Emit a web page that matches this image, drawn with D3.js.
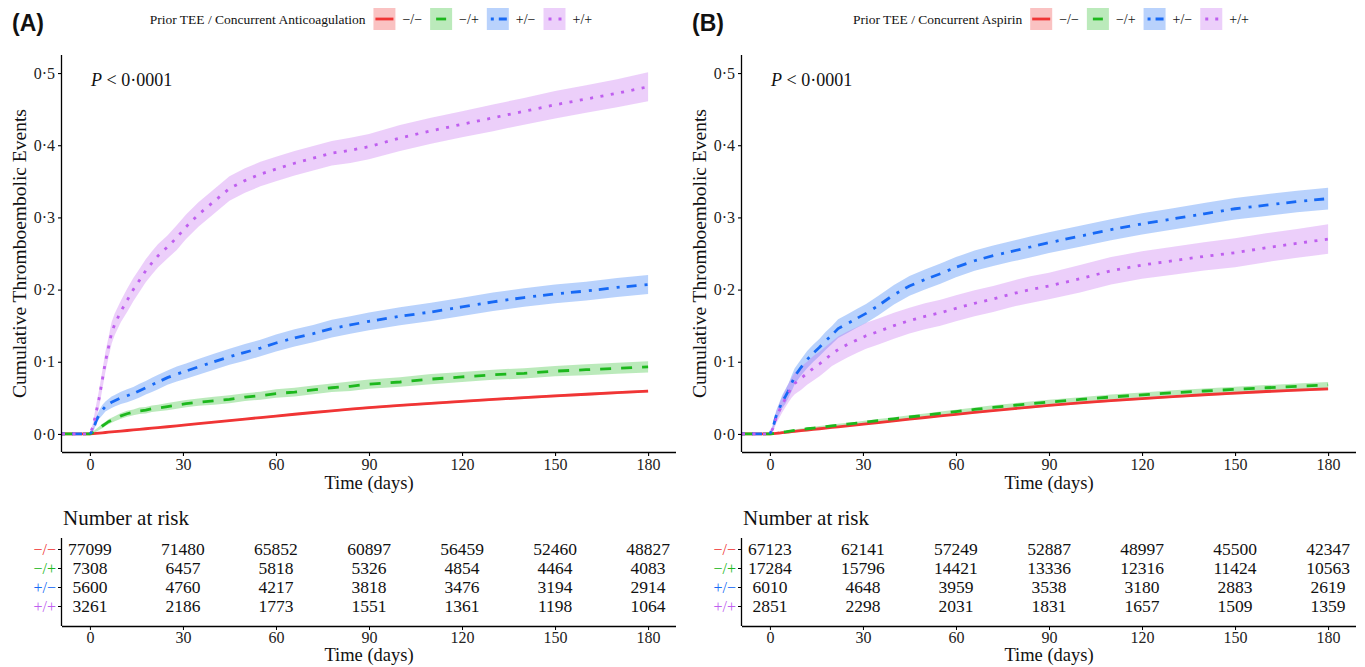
<!DOCTYPE html>
<html><head><meta charset="utf-8">
<script src="https://cdn.jsdelivr.net/npm/d3@7"></script>
<style>
body{margin:0;background:#fff;}
text{font-family:"Liberation Serif","Times New Roman",serif;}
</style>
</head><body>
<svg id="c" width="1365" height="667"></svg>
<script>
// ---------- data ----------
const groups = ["−/−", "−/+", "+/−", "+/+"];
const colors = ["#F03535", "#1DB81D", "#1769F5", "#BF5FEF"];
const xTicks = [0, 30, 60, 90, 120, 150, 180];
const yTicks = [0, 0.1, 0.2, 0.3, 0.4, 0.5];
const riskTimes = [0, 30, 60, 90, 120, 150, 180];
const times = [-9,0,1,2,3,4,5,6,7,8,10,12,14,16,18,20,22,25,28,31,35,40,45,50,55,60,66,72,78,84,90,100,110,120,130,140,150,160,170,180];

// Panel A: Prior TEE / Concurrent Anticoagulation
const legendTitleA = "Prior TEE / Concurrent Anticoagulation";
const estA_mm = [0,0,0.0004,0.0008,0.0012,0.0016,0.002,0.0024,0.0028,0.0032,0.004,0.0048,0.0056,0.0064,0.0072,0.008,0.0088,0.010,0.0112,0.0125,0.0142,0.0163,0.0185,0.0206,0.0227,0.0248,0.0273,0.0297,0.032,0.0343,0.0365,0.0395,0.0425,0.0452,0.0478,0.0503,0.0527,0.055,0.0572,0.0594];
const estA_mp = [0,0,0.002,0.005,0.008,0.011,0.014,0.017,0.019,0.021,0.025,0.028,0.03,0.032,0.033,0.035,0.036,0.038,0.04,0.042,0.044,0.046,0.048,0.051,0.053,0.056,0.058,0.061,0.064,0.066,0.069,0.072,0.076,0.079,0.082,0.084,0.087,0.089,0.091,0.093];
const estA_pm = [0,0,0.005,0.018,0.027,0.033,0.038,0.041,0.044,0.046,0.05,0.053,0.056,0.06,0.064,0.068,0.072,0.078,0.083,0.087,0.093,0.1,0.107,0.113,0.119,0.126,0.133,0.139,0.146,0.151,0.156,0.163,0.169,0.176,0.183,0.189,0.194,0.198,0.203,0.207];
const estA_pp = [0,0,0.01,0.03,0.05,0.075,0.1,0.12,0.14,0.152,0.17,0.185,0.2,0.213,0.226,0.237,0.247,0.259,0.272,0.287,0.304,0.322,0.34,0.351,0.36,0.367,0.375,0.382,0.389,0.393,0.398,0.41,0.42,0.429,0.438,0.447,0.456,0.464,0.472,0.481];
const ciA_mm = [0,0,0.0003,0.0004,0.0004,0.0005,0.0005,0.0005,0.0006,0.0006,0.0006,0.0007,0.0007,0.0008,0.0008,0.0008,0.0009,0.0009,0.001,0.001,0.001,0.0011,0.0011,0.0012,0.0012,0.0013,0.0013,0.0014,0.0014,0.0015,0.0015,0.0016,0.0016,0.0017,0.0017,0.0018,0.0018,0.0019,0.0019,0.002];
const ciA_mp = [0,0,0.0015,0.002,0.0025,0.003,0.003,0.0035,0.0035,0.0035,0.004,0.004,0.004,0.0045,0.0045,0.0045,0.0045,0.005,0.005,0.005,0.005,0.0055,0.0055,0.0055,0.0055,0.006,0.006,0.006,0.006,0.0065,0.0065,0.0065,0.007,0.007,0.007,0.0072,0.0072,0.0075,0.0075,0.0078];
const ciA_pm = [0,0,0.003,0.005,0.006,0.007,0.007,0.0075,0.008,0.008,0.0085,0.009,0.009,0.0095,0.0095,0.01,0.01,0.01,0.0105,0.0105,0.011,0.011,0.0112,0.0115,0.0115,0.0118,0.012,0.012,0.0122,0.0122,0.0124,0.0125,0.0126,0.0127,0.0128,0.0129,0.013,0.013,0.0131,0.0132];
const ciA_pp = [0,0,0.006,0.01,0.012,0.013,0.014,0.014,0.015,0.015,0.015,0.016,0.016,0.016,0.016,0.016,0.016,0.016,0.017,0.017,0.017,0.017,0.017,0.017,0.017,0.017,0.017,0.017,0.017,0.0175,0.0175,0.018,0.018,0.018,0.0185,0.0185,0.019,0.019,0.0195,0.02];
const riskA_mm = [77099, 71480, 65852, 60897, 56459, 52460, 48827];
const riskA_mp = [7308, 6457, 5818, 5326, 4854, 4464, 4083];
const riskA_pm = [5600, 4760, 4217, 3818, 3476, 3194, 2914];
const riskA_pp = [3261, 2186, 1773, 1551, 1361, 1198, 1064];

// Panel B: Prior TEE / Concurrent Aspirin
const legendTitleB = "Prior TEE / Concurrent Aspirin";
const estB_mm = [0,0,0.0004,0.0009,0.0013,0.0018,0.0022,0.0027,0.0031,0.0036,0.0045,0.0054,0.0063,0.0072,0.0081,0.009,0.0099,0.0112,0.0126,0.014,0.0158,0.018,0.0205,0.0228,0.025,0.0272,0.0298,0.0324,0.0348,0.0372,0.0395,0.043,0.0462,0.049,0.0517,0.0543,0.0566,0.0588,0.0607,0.0625];
const estB_mp = [0,0,0.0006,0.0012,0.0018,0.0024,0.003,0.0037,0.0044,0.005,0.0062,0.0072,0.0082,0.0092,0.0102,0.0112,0.0122,0.0136,0.015,0.0165,0.0185,0.021,0.0235,0.026,0.0285,0.031,0.034,0.0367,0.0393,0.0418,0.0442,0.0478,0.0512,0.0542,0.057,0.0595,0.0618,0.064,0.066,0.068];
const estB_pm = [0,0,0.009,0.025,0.035,0.045,0.052,0.06,0.07,0.08,0.092,0.103,0.112,0.12,0.129,0.137,0.146,0.153,0.16,0.167,0.178,0.193,0.205,0.214,0.222,0.231,0.24,0.247,0.253,0.259,0.265,0.274,0.283,0.291,0.298,0.305,0.312,0.317,0.322,0.326];
const estB_pp = [0,0,0.008,0.022,0.032,0.041,0.049,0.057,0.064,0.07,0.077,0.084,0.091,0.097,0.104,0.111,0.117,0.124,0.13,0.136,0.142,0.15,0.157,0.163,0.168,0.174,0.181,0.187,0.194,0.2,0.205,0.215,0.226,0.234,0.24,0.246,0.251,0.258,0.264,0.27];
const ciB_mm = [0,0,0.0003,0.0004,0.0004,0.0005,0.0005,0.0005,0.0006,0.0006,0.0006,0.0007,0.0007,0.0008,0.0008,0.0008,0.0009,0.0009,0.001,0.001,0.001,0.0011,0.0011,0.0012,0.0012,0.0013,0.0013,0.0014,0.0014,0.0015,0.0015,0.0016,0.0016,0.0017,0.0017,0.0018,0.0018,0.0019,0.0019,0.002];
const ciB_mp = [0,0,0.0005,0.0008,0.001,0.001,0.0012,0.0012,0.0013,0.0013,0.0014,0.0015,0.0016,0.0017,0.0017,0.0018,0.0019,0.002,0.002,0.0021,0.0022,0.0023,0.0024,0.0025,0.0026,0.0027,0.0028,0.0029,0.003,0.003,0.0031,0.0032,0.0033,0.0034,0.0035,0.0036,0.0037,0.0037,0.0038,0.0039];
const ciB_pm = [0,0,0.004,0.007,0.008,0.009,0.01,0.01,0.011,0.011,0.011,0.012,0.012,0.012,0.0125,0.0125,0.013,0.013,0.013,0.0132,0.0134,0.0135,0.0137,0.0138,0.014,0.014,0.014,0.0142,0.0142,0.0144,0.0144,0.0145,0.0146,0.0147,0.0148,0.0148,0.0149,0.015,0.015,0.0152];
const ciB_pp = [0,0,0.005,0.008,0.01,0.011,0.012,0.013,0.014,0.015,0.016,0.016,0.017,0.017,0.017,0.017,0.018,0.018,0.018,0.018,0.018,0.018,0.018,0.018,0.018,0.018,0.018,0.018,0.018,0.0185,0.0185,0.019,0.019,0.019,0.0195,0.0195,0.02,0.02,0.02,0.0205];
const riskB_mm = [67123, 62141, 57249, 52887, 48997, 45500, 42347];
const riskB_mp = [17284, 15796, 14421, 13336, 12316, 11424, 10563];
const riskB_pm = [6010, 4648, 3959, 3538, 3180, 2883, 2619];
const riskB_pp = [2851, 2298, 2031, 1831, 1657, 1509, 1359];

// ---------- styles ----------
const dashes = [null, "11,10", "3,7,10,8", "3,7.5"];
const LW = 2.8;
const INK = "#111";

const panels = [
  {label: "(A)", legendTitle: legendTitleA, ox: 0,
   est: [estA_mm, estA_mp, estA_pm, estA_pp], ci: [ciA_mm, ciA_mp, ciA_pm, ciA_pp],
   risk: [riskA_mm, riskA_mp, riskA_pm, riskA_pp]},
  {label: "(B)", legendTitle: legendTitleB, ox: 680,
   est: [estB_mm, estB_mp, estB_pm, estB_pp], ci: [ciB_mm, ciB_mp, ciB_pm, ciB_pp],
   risk: [riskB_mm, riskB_mp, riskB_pm, riskB_pp]}
];

const svg = d3.select("#c");
const fmtY = v => d3.format(".1f")(v).replace(".", "·");

panels.forEach((p, pi) => {
  const ox = p.ox;
  const L = ox + 62, R = ox + 676, T = 55, B = 452;
  const x = d3.scaleLinear().domain([-9, 189]).range([L, R]);
  const y = d3.scaleLinear().domain([-0.025, 0.525]).range([B, T]);
  const g = svg.append("g");

  // panel label
  g.append("text").attr("x", ox + 12).attr("y", 31)
    .style("font-family", "'Liberation Sans', Arial, sans-serif")
    .style("font-weight", "bold").style("font-size", "23px").style("fill", INK).text(p.label);

  // legend
  const lg = g.append("g");
  const lt = lg.append("text").attr("x", 0).attr("y", 24).style("font-size", "13.5px").style("fill", INK).text(p.legendTitle);
  let cx = lt.node().getComputedTextLength() + 8;
  groups.forEach((gname, i) => {
    lg.append("rect").attr("x", cx).attr("y", 8).attr("width", 22).attr("height", 22)
      .attr("fill", colors[i]).attr("fill-opacity", 0.3);
    const ky = 19;
    if (i === 0) {
      lg.append("line").attr("x1", cx + 2).attr("x2", cx + 20).attr("y1", ky).attr("y2", ky)
        .attr("stroke", colors[i]).attr("stroke-width", LW);
    } else if (i === 1) {
      lg.append("line").attr("x1", cx + 6).attr("x2", cx + 16).attr("y1", ky).attr("y2", ky)
        .attr("stroke", colors[i]).attr("stroke-width", LW);
    } else if (i === 2) {
      lg.append("line").attr("x1", cx + 4).attr("x2", cx + 20).attr("y1", ky).attr("y2", ky)
        .attr("stroke", colors[i]).attr("stroke-width", LW).attr("stroke-dasharray", "3,5,8");
    } else {
      lg.append("line").attr("x1", cx + 5).attr("x2", cx + 18).attr("y1", ky).attr("y2", ky)
        .attr("stroke", colors[i]).attr("stroke-width", LW).attr("stroke-dasharray", "3,7,3");
    }
    const tx = lg.append("text").attr("x", cx + 29).attr("y", 24).style("font-size", "14px").style("fill", INK).text(gname);
    cx += 29 + tx.node().getComputedTextLength() + 8;
  });
  const bb = lg.node().getBBox();
  const center = (L + R) / 2;
  lg.attr("transform", `translate(${center - bb.width / 2 + 2},0)`);

  // clip
  const clipId = "clip" + pi;
  svg.append("clipPath").attr("id", clipId).append("rect")
    .attr("x", L).attr("y", T).attr("width", R - L).attr("height", B - T);
  const plot = g.append("g").attr("clip-path", `url(#${clipId})`);

  // bands
  groups.forEach((gname, i) => {
    const pts = times.map((t, k) => ({t, v: p.est[i][k], h: p.ci[i][k]}));
    const area = d3.area().x(d => x(d.t)).y0(d => y(d.v - d.h)).y1(d => y(d.v + d.h));
    plot.append("path").datum(pts).attr("d", area).attr("fill", colors[i]).attr("fill-opacity", 0.3);
  });
  // lines
  groups.forEach((gname, i) => {
    const pts = times.map((t, k) => ({t, v: p.est[i][k]}));
    const line = d3.line().x(d => x(d.t)).y(d => y(d.v));
    const path = plot.append("path").datum(pts).attr("d", line).attr("fill", "none")
      .attr("stroke", colors[i]).attr("stroke-width", LW);
    if (dashes[i]) path.attr("stroke-dasharray", dashes[i]);
  });

  // axes
  const ax = g.append("g").attr("transform", `translate(0,${B})`)
    .call(d3.axisBottom(x).tickValues(xTicks).tickSize(4).tickPadding(3).tickSizeOuter(0));
  const ay = g.append("g").attr("transform", `translate(${L},0)`)
    .call(d3.axisLeft(y).tickValues(yTicks).tickFormat(fmtY).tickSize(4).tickPadding(3).tickSizeOuter(0));
  [ax, ay].forEach(a => {
    a.selectAll("path.domain").attr("stroke", "#000").attr("stroke-width", 1.3);
    a.selectAll(".tick line").attr("stroke", "#000").attr("stroke-width", 1.1);
    a.selectAll(".tick text").style("font-family", "'Liberation Serif', serif").style("font-size", "16px").style("fill", "#222");
  });
  ax.select("path.domain").attr("d", `M${L},0.5H${R}`);
  ay.select("path.domain").attr("d", `M-0.5,${T}V${B}`);

  g.append("text").attr("x", center).attr("y", 489).attr("text-anchor", "middle")
    .style("font-size", "18.5px").style("fill", INK).text("Time (days)");
  g.append("text").attr("transform", `translate(${ox + 26},${(T + B) / 2}) rotate(-90)`)
    .attr("text-anchor", "middle").style("font-size", "19.5px").style("fill", INK).text("Cumulative Thromboembolic Events");

  // p-value
  const pt = g.append("text").attr("x", ox + 91).attr("y", 86).style("font-size", "18px").style("fill", INK);
  pt.append("tspan").style("font-style", "italic").text("P");
  pt.append("tspan").text(" < 0·0001");

  // risk table
  g.append("text").attr("x", ox + 63).attr("y", 525).style("font-size", "21px").style("fill", INK).text("Number at risk");
  const TB = 626;
  const ry = d3.scalePoint().domain(groups).range([549, 606]);
  groups.forEach((gname, i) => {
    p.risk[i].forEach((n, k) => {
      g.append("text").attr("x", x(riskTimes[k])).attr("y", ry(gname)).attr("dy", "0.35em")
        .attr("text-anchor", "middle").style("font-size", "17.5px").style("fill", INK).text(n);
    });
  });
  const ayr = g.append("g").attr("transform", `translate(${L},0)`)
    .call(d3.axisLeft(ry).tickSize(4).tickPadding(2).tickSizeOuter(0));
  ayr.select("path.domain").attr("d", `M-0.5,538V${TB}`).attr("stroke", "#000").attr("stroke-width", 1.3);
  ayr.selectAll(".tick line").attr("stroke", "#000");
  ayr.selectAll(".tick text").style("font-family", "'Liberation Serif', serif").style("font-size", "16px")
    .style("fill", (d, i) => colors[i]);
  const axr = g.append("g").attr("transform", `translate(0,${TB})`)
    .call(d3.axisBottom(x).tickValues(xTicks).tickSize(4).tickPadding(2).tickSizeOuter(0));
  axr.select("path.domain").attr("d", `M${L},0.5H${R}`).attr("stroke", "#000").attr("stroke-width", 1.3);
  axr.selectAll(".tick line").attr("stroke", "#000");
  axr.selectAll(".tick text").style("font-family", "'Liberation Serif', serif").style("font-size", "16px").style("fill", "#222");
  g.append("text").attr("x", center).attr("y", 661).attr("text-anchor", "middle")
    .style("font-size", "18.5px").style("fill", INK).text("Time (days)");
});
</script>
</body></html>
